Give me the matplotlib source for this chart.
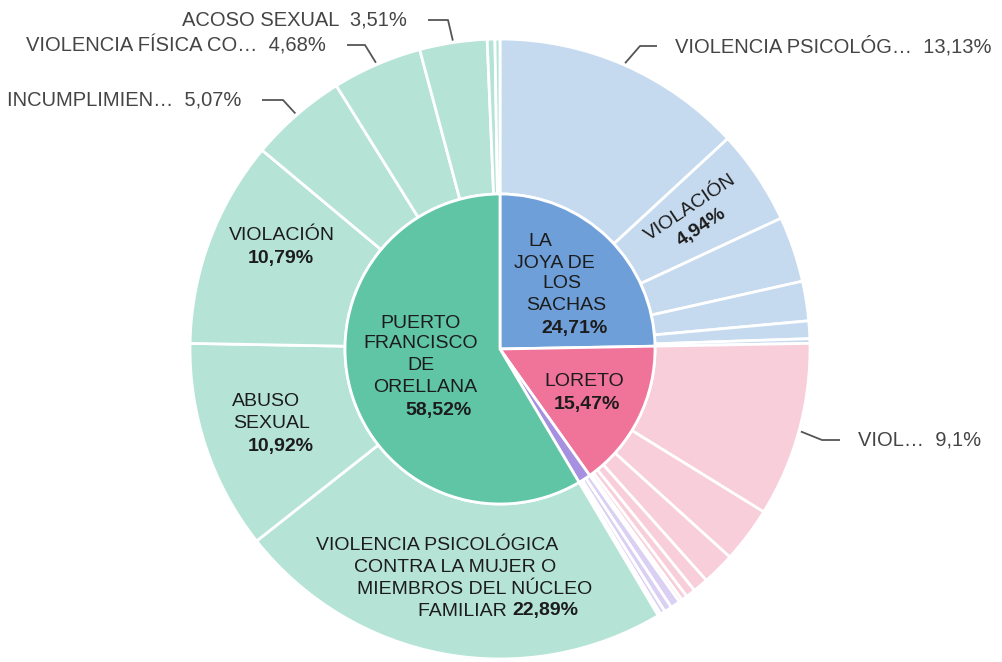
import matplotlib.pyplot as plt
import numpy as np

plt.rcParams['font.family'] = ['Liberation Sans', 'DejaVu Sans']

# ---- data (percent of total cases) ----
cantones = ['LA JOYA DE LOS SACHAS', 'LORETO', 'OTROS', 'PUERTO FRANCISCO DE ORELLANA']
canton_pct = [24.71, 15.47, 1.30, 58.52]

joya_delitos = ['VIOLENCIA PSICOLÓGICA', 'VIOLACIÓN', 'ABUSO SEXUAL', 'INCUMPLIMIENTO',
                'VIOLENCIA FÍSICA', 'ACOSO SEXUAL']
joya_pct = [13.13, 4.94, 3.42, 2.06, 0.92, 0.24]

loreto_delitos = ['VIOLENCIA PSICOLÓGICA', 'VIOLACIÓN', 'ABUSO SEXUAL', 'INCUMPLIMIENTO',
                  'VIOLENCIA FÍSICA', 'ACOSO SEXUAL', 'OTROS']
loreto_pct = [9.10, 2.90, 1.70, 0.80, 0.50, 0.30, 0.17]

otros_pct = [0.50, 0.40, 0.25, 0.15]

orellana_delitos = ['VIOLENCIA PSICOLÓGICA', 'ABUSO SEXUAL', 'VIOLACIÓN', 'INCUMPLIMIENTO',
                    'VIOLENCIA FÍSICA', 'ACOSO SEXUAL', 'OTROS', 'OTROS 2']
orellana_pct = [22.89, 10.92, 10.79, 5.07, 4.68, 3.51, 0.40, 0.26]

canton_colors = ['#6f9fd9', '#f0739a', '#a690e0', '#5fc5a5']
ring_colors = ['#c6daef', '#f8cedb', '#dad0f4', '#b5e4d6']

W, H = 1003, 662
cx, cy = 500, 349          # centre in pixel coords (y down)
R = 310


def Y(y):
    return H - y


fig = plt.figure(figsize=(W / 100, H / 100), dpi=100)
ax = fig.add_axes([0, 0, 1, 1])

outer_groups = [joya_pct, loreto_pct, otros_pct, orellana_pct]
outer_vals = [v for g in outer_groups for v in g]
outer_cols = [ring_colors[i] for i, g in enumerate(outer_groups) for _ in g]

outer, _ = ax.pie(outer_vals, radius=R, center=(cx, Y(cy)), startangle=90,
                  counterclock=False, colors=outer_cols, normalize=True,
                  wedgeprops=dict(width=R / 2, edgecolor='white', linewidth=2))
inner, _ = ax.pie(canton_pct, radius=R / 2, center=(cx, Y(cy)), startangle=90,
                  counterclock=False, colors=canton_colors, normalize=True,
                  wedgeprops=dict(edgecolor='white', linewidth=2))

ax.set_xlim(0, W)
ax.set_ylim(0, H)
ax.set_aspect('equal')
ax.axis('off')

dark = '#1c1c1c'
gray = '#454545'
fs_in = 14
fs_out = 14.5

# ---- labels inside wedges ----
inside = [
    ('PUERTO', 421, 323, 'normal'), ('FRANCISCO', 421, 344, 'normal'),
    ('DE', 421, 366, 'normal'), ('ORELLANA', 425, 388, 'normal'),
    ('58,52%', 439, 410, 'bold'),
    ('LA', 540, 241, 'normal'), ('JOYA DE', 554, 263, 'normal'),
    ('LOS', 562, 284, 'normal'), ('SACHAS', 566, 306, 'normal'),
    ('24,71%', 575, 328, 'bold'),
    ('LORETO', 584, 381, 'normal'), ('15,47%', 587, 404, 'bold'),
    ('VIOLACIÓN', 282, 236, 'normal'), ('10,79%', 281, 258, 'bold'),
    ('ABUSO', 266, 402, 'normal'), ('SEXUAL', 272, 424, 'normal'),
    ('10,92%', 281, 446, 'bold'),
    ('VIOLENCIA PSICOLÓGICA', 437, 546, 'normal'),
    ('CONTRA LA MUJER O', 455, 568, 'normal'),
    ('MIEMBROS DEL NÚCLEO', 475, 590, 'normal'),
]
for t, x, y, w in inside:
    ax.text(x, Y(y), t, ha='center', va='center', fontsize=fs_in,
            fontweight=w, color=dark)
ax.text(512, Y(611), 'FAMILIAR ', ha='right', va='center', fontsize=fs_in, color=dark)
ax.text(512, Y(611), '22,89%', ha='left', va='center', fontsize=fs_in,
        fontweight='bold', color=dark)

# rotated label on the La Joya "violación" wedge
w = outer[1]
mid = np.deg2rad((w.theta1 + w.theta2) / 2)
rot = np.rad2deg(mid)
ax.text(690, Y(208), 'VIOLACIÓN', rotation=rot, rotation_mode='anchor',
        ha='center', va='center', fontsize=fs_in, color=dark)
ax.text(702, Y(227), '4,94%', rotation=rot, rotation_mode='anchor',
        ha='center', va='center', fontsize=fs_in, fontweight='bold', color=dark)

# ---- outside labels with leader lines ----
n_j, n_l, n_o = len(joya_pct), len(loreto_pct), len(otros_pct)
off = n_j + n_l + n_o
callouts = [
    # wedge index, label, elbow (px), line end (px), side
    (off + 5, 'ACOSO SEXUAL  3,51%', (448, 20), (428, 20), 'right'),
    (off + 4, 'VIOLENCIA FÍSICA CO…  4,68%', (365, 45), (347, 45), 'right'),
    (off + 3, 'INCUMPLIMIEN…  5,07%', (283, 100), (262, 100), 'right'),
    (0, 'VIOLENCIA PSICOLÓG…  13,13%', (640, 46), (657, 46), 'left'),
    (n_j, 'VIOL…  9,1%', (822, 440), (840, 440), 'left'),
]
for idx, lab, (ex, ey), (lx, ly), side in callouts:
    w = outer[idx]
    a = np.deg2rad((w.theta1 + w.theta2) / 2)
    ax_, ay_ = cx + (R + 2) * np.cos(a), Y(cy) + (R + 2) * np.sin(a)
    ax.plot([ax_, ex, lx], [ay_, Y(ey), Y(ly)], color='#555555', lw=1.3,
            solid_capstyle='butt')
    if side == 'right':
        ax.text(lx - 21, Y(ly), lab, ha='right', va='center', fontsize=fs_out, color=gray)
    else:
        ax.text(lx + 18, Y(ly), lab, ha='left', va='center', fontsize=fs_out, color=gray)

fig.savefig('out.png', dpi=100)
